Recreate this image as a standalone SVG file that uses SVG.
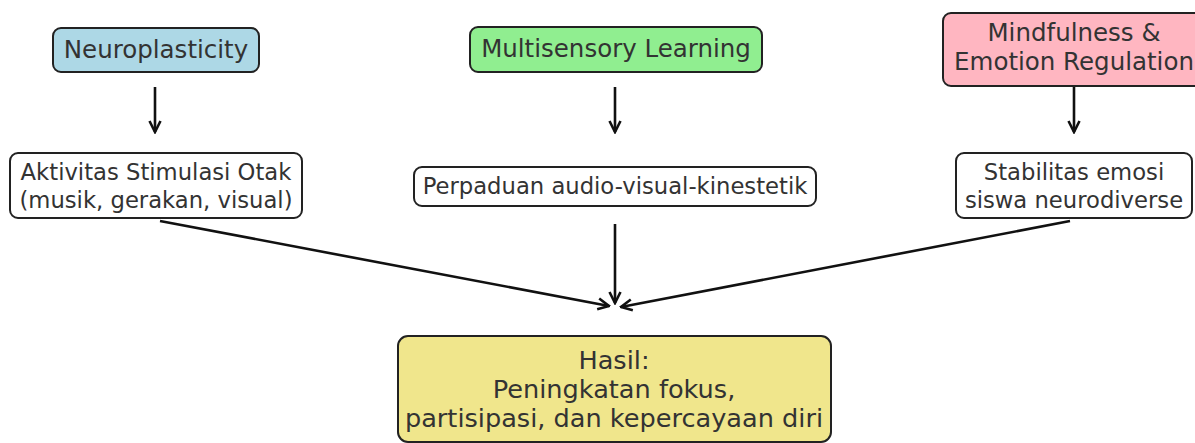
<svg xmlns="http://www.w3.org/2000/svg" width="1195" height="443" viewBox="0 0 1195 443">
<style>
.box{stroke:#222;stroke-width:2}
.t{font-family:"DejaVu Sans",sans-serif;fill:#333;text-anchor:middle}
.big{font-size:24.5px}
.sm{font-size:22.7px}
.res{font-size:25.6px}
.c{stroke:#111;stroke-width:2.6;fill:none;marker-end:url(#ah)}
</style>
<defs>
<marker id="ah" viewBox="0 0 14 14" refX="12.5" refY="7" markerWidth="14" markerHeight="14" markerUnits="userSpaceOnUse" orient="auto">
<path d="M1.5,1.5 L12.5,7 L1.5,12.5" fill="none" stroke="#111" stroke-width="2.6"/>
</marker>
</defs>
<rect width="1195" height="443" fill="#fff"/>
<g id="neuroplasticity">
<rect class="box" x="53" y="28" width="206" height="44" rx="8" fill="#ADD8E6"/>
<text class="t big" x="156" y="58">Neuroplasticity</text>
</g>
<g id="multisensory">
<rect class="box" x="470" y="27" width="292" height="45" rx="8" fill="#90EE90"/>
<text class="t big" x="616" y="57">Multisensory Learning</text>
</g>
<g id="mindfulness">
<rect class="box" x="943" y="13" width="262" height="73" rx="8" fill="#FFB6C1"/>
<text class="t big" x="1074" y="41">Mindfulness &amp;</text>
<text class="t big" x="1074" y="70">Emotion Regulation</text>
</g>
<g id="aktivitas">
<rect class="box" x="10" y="153" width="292" height="65" rx="8" fill="#fff"/>
<text class="t sm" x="156" y="180">Aktivitas Stimulasi Otak</text>
<text class="t sm" x="156" y="208">(musik, gerakan, visual)</text>
</g>
<g id="perpaduan">
<rect class="box" x="414" y="167" width="402" height="39" rx="8" fill="#fff"/>
<text class="t sm" x="615" y="194">Perpaduan audio-visual-kinestetik</text>
</g>
<g id="stabilitas">
<rect class="box" x="956" y="153" width="236" height="65" rx="8" fill="#fff"/>
<text class="t sm" x="1074" y="180">Stabilitas emosi</text>
<text class="t sm" x="1074" y="208">siswa neurodiverse</text>
</g>
<g id="hasil">
<rect class="box" x="398" y="336" width="433" height="106" rx="10" fill="#F0E68C"/>
<text class="t res" x="614" y="369">Hasil:</text>
<text class="t res" x="614" y="398">Peningkatan fokus,</text>
<text class="t res" x="614" y="427">partisipasi, dan kepercayaan diri</text>
</g>
<g id="connectors">
<line class="c" x1="155" y1="87" x2="155" y2="132"/>
<line class="c" x1="615" y1="87" x2="615" y2="132"/>
<line class="c" x1="1074" y1="87" x2="1074" y2="132"/>
<line class="c" x1="160" y1="221" x2="609" y2="306"/>
<line class="c" x1="615" y1="224" x2="615" y2="303"/>
<line class="c" x1="1070" y1="221" x2="621" y2="307"/>
</g>
</svg>
